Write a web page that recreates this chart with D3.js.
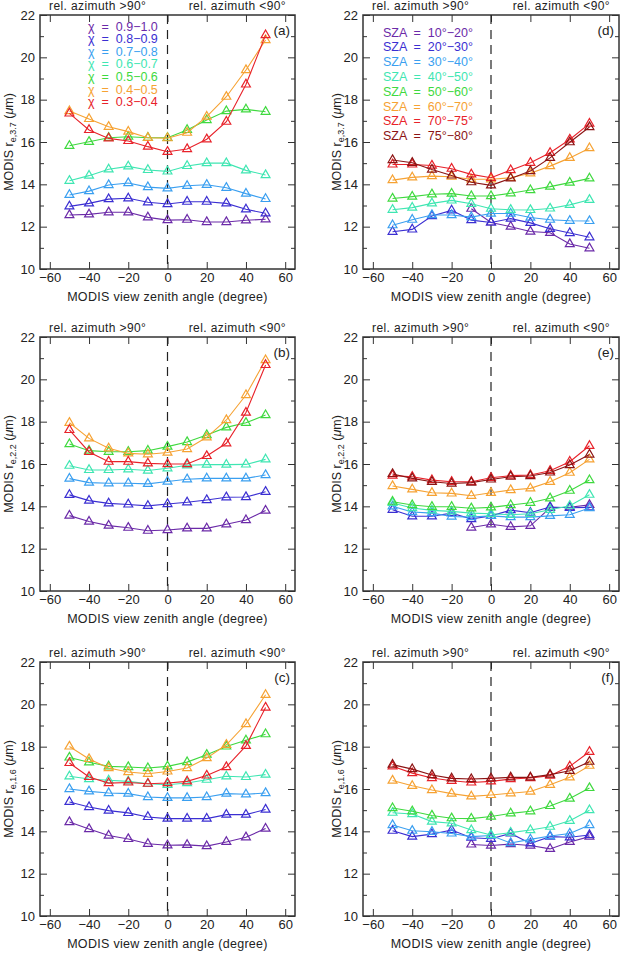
<!DOCTYPE html>
<html>
<head>
<meta charset="utf-8">
<script src="https://cdn.jsdelivr.net/npm/d3@7"></script>
<style>
  html, body { margin: 0; padding: 0; background: #fff; }
  svg { display: block; font-family: "Liberation Sans", Arial, Helvetica, sans-serif; }
</style>
</head>
<body>
<svg id="chart" width="620" height="953"></svg>
<script>
// ---------------- DATA ----------------
const vza = [-50, -40, -30, -20, -10, 0, 10, 20, 30, 40, 50];
const xTicks = [-60, -40, -20, 0, 20, 40, 60];
const yTicks = [10, 12, 14, 16, 18, 20, 22];
const yMinorTicks = [11, 13, 15, 17, 19, 21];

const chiLabels = ["0.9\u22121.0", "0.8\u22120.9", "0.7\u22120.8", "0.6\u22120.7", "0.5\u22120.6", "0.4\u22120.5", "0.3\u22120.4"];
const chiColors = ["#6b2aa8", "#3b2fd2", "#3a9ff0", "#3fe6b2", "#3fd93f", "#f6a233", "#e8222a"];

const szaLabels = ["10\u00b0\u221220\u00b0", "20\u00b0\u221230\u00b0", "30\u00b0\u221240\u00b0", "40\u00b0\u221250\u00b0",
                   "50\u00b0\u221260\u00b0", "60\u00b0\u221270\u00b0", "70\u00b0\u221275\u00b0", "75\u00b0\u221280\u00b0"];
const szaColors = ["#6b2aa8", "#3b2fd2", "#3a9ff0", "#3fe6b2", "#3fd93f", "#f6a233", "#e8222a", "#8c1414"];

// panel (a): r_e,3.7 by chi
const reA = [
  [12.55,12.58,12.68,12.68,12.44,12.31,12.33,12.22,12.22,12.30,12.35],
  [12.96,13.10,13.30,13.34,13.15,13.07,13.18,13.18,13.10,12.82,12.63],
  [13.50,13.68,13.97,14.06,13.87,13.81,13.93,13.98,13.84,13.56,13.31],
  [14.17,14.41,14.71,14.85,14.68,14.61,14.87,15.00,15.00,14.66,14.44],
  [15.82,16.01,16.20,16.25,16.20,16.20,16.57,17.04,17.46,17.54,17.43],
  [17.46,17.09,16.72,16.49,16.20,16.18,16.44,17.20,18.14,19.40,20.82],
  [17.35,16.57,16.17,16.05,15.78,15.54,15.67,16.13,16.96,18.72,21.05]
];
// panel (b): r_e,2.2 by chi
const reB = [
  [13.56,13.28,13.09,12.99,12.85,12.88,12.96,12.96,13.15,13.35,13.80],
  [14.54,14.27,14.14,14.09,14.02,14.11,14.19,14.30,14.43,14.44,14.69],
  [15.31,15.12,15.09,15.09,15.06,15.17,15.28,15.32,15.32,15.32,15.48],
  [15.92,15.72,15.72,15.75,15.69,15.80,15.94,15.97,15.97,15.98,16.22],
  [16.94,16.63,16.58,16.58,16.63,16.82,17.04,17.37,17.73,17.95,18.31],
  [17.95,17.21,16.74,16.50,16.46,16.54,16.71,17.26,18.08,19.26,20.91],
  [17.61,16.57,16.11,16.11,16.03,16.00,16.00,16.38,16.98,18.43,20.68]
];
// panel (c): r_e,1.6 by chi
const reC = [
  [14.44,14.11,13.80,13.64,13.41,13.34,13.36,13.30,13.50,13.72,14.13],
  [15.39,15.15,14.98,14.87,14.68,14.60,14.60,14.60,14.79,14.79,15.03],
  [16.00,15.89,15.81,15.78,15.62,15.58,15.58,15.62,15.78,15.75,15.81],
  [16.60,16.47,16.41,16.36,16.25,16.20,16.28,16.44,16.60,16.57,16.68],
  [17.49,17.26,17.07,17.04,16.99,17.07,17.27,17.62,18.01,18.30,18.59],
  [18.01,17.42,16.99,16.80,16.72,16.83,16.99,17.46,18.09,19.07,20.45],
  [17.23,16.57,16.28,16.31,16.25,16.28,16.36,16.64,17.04,18.04,19.85]
];
// panel (d): r_e,3.7 by SZA
const reD = [
  [null,null,null,null,12.85,12.20,12.00,11.77,11.71,11.18,10.98],
  [11.76,11.87,12.50,12.77,12.31,12.20,12.38,12.18,11.90,11.70,11.50],
  [12.07,12.33,12.55,12.55,12.45,12.62,12.62,12.43,12.33,12.28,12.27],
  [12.80,12.90,13.10,13.24,13.08,12.85,12.80,12.79,12.86,13.03,13.27],
  [13.33,13.42,13.53,13.56,13.45,13.45,13.58,13.73,13.89,14.08,14.28],
  [14.20,14.33,14.39,14.36,14.24,14.24,14.31,14.52,14.86,15.25,15.71],
  [14.94,14.94,14.89,14.74,14.47,14.31,14.67,15.02,15.49,16.12,16.87],
  [15.15,15.02,14.70,14.42,14.10,13.95,14.28,14.63,15.25,15.99,16.71]
];
// panel (e): r_e,2.2 by SZA
const reE = [
  [null,null,null,null,13.00,13.15,13.03,13.08,13.93,13.96,14.07],
  [13.84,13.53,13.53,13.68,13.40,13.55,13.82,13.70,13.97,13.93,13.95],
  [14.00,13.73,13.68,13.52,13.49,13.55,13.49,13.49,13.55,13.60,13.92],
  [14.16,13.92,13.81,13.76,13.68,13.65,13.60,13.65,13.84,14.03,14.55],
  [14.22,14.06,13.98,13.98,13.91,13.95,14.06,14.17,14.38,14.74,15.24],
  [14.96,14.80,14.64,14.61,14.50,14.64,14.77,14.85,15.16,15.59,16.22],
  [15.45,15.40,15.24,15.16,15.16,15.35,15.45,15.48,15.68,16.11,16.86],
  [15.53,15.32,15.16,15.08,15.12,15.27,15.40,15.43,15.60,15.95,16.45]
];
// panel (f): r_e,1.6 by SZA
const reF = [
  [null,null,null,null,13.38,13.33,13.40,13.33,13.17,13.50,13.75],
  [14.03,13.75,13.87,14.06,13.70,13.65,13.90,13.43,13.75,13.72,13.83],
  [14.30,14.03,13.98,13.90,13.75,13.80,13.45,13.62,13.78,13.90,14.30],
  [14.88,14.82,14.46,14.38,14.06,13.83,13.94,14.06,14.22,14.50,15.00],
  [15.10,14.95,14.75,14.62,14.60,14.70,14.85,14.95,15.20,15.55,16.05],
  [16.40,16.15,15.95,15.78,15.65,15.72,15.80,15.88,16.20,16.55,17.10],
  [17.07,16.75,16.52,16.39,16.31,16.36,16.47,16.52,16.63,17.07,17.76],
  [17.15,16.94,16.66,16.50,16.47,16.50,16.55,16.55,16.68,16.86,17.29]
];

// ---------------- DRAWING ----------------
const svg = d3.select("#chart");

const panels = [
  {id:"a", x0:40,  x1:295, y0:15,  y1:269, ytOff:27, sub:"e,3.7", data:reA, colors:chiColors, legend:chiLabels.map(l=>"\u03c7  =  " + l), legX:88,  legY:26, legDy:12.6},
  {id:"b", x0:40,  x1:295, y0:337, y1:591, ytOff:27, sub:"e,2.2", data:reB, colors:chiColors},
  {id:"c", x0:40,  x1:295, y0:662, y1:916, ytOff:27, sub:"e,1.6", data:reC, colors:chiColors},
  {id:"d", x0:363, x1:619, y0:15,  y1:269, ytOff:22, sub:"e,3.7", data:reD, colors:szaColors, legend:szaLabels.map(l=>"SZA  =  " + l), legX:383, legY:32, legDy:14.8},
  {id:"e", x0:363, x1:619, y0:337, y1:591, ytOff:22, sub:"e,2.2", data:reE, colors:szaColors},
  {id:"f", x0:363, x1:619, y0:662, y1:916, ytOff:22, sub:"e,1.6", data:reF, colors:szaColors}
];

const frameColor = "#333";

panels.forEach(p => {
  const x = d3.scaleLinear().domain([-65, 65]).range([p.x0, p.x1]);
  const y = d3.scaleLinear().domain([10, 22]).range([p.y1, p.y0]);
  const g = svg.append("g");

  // axes (ticks inward)
  const xMajor = d3.axisBottom(x).tickValues(xTicks).tickSize(-7).tickPadding(4)
    .tickFormat(d => d < 0 ? "\u2212" + Math.abs(d) : d);
  const yMajor = d3.axisLeft(y).tickValues(yTicks).tickSize(-7).tickPadding(5).tickFormat(d3.format("d"));

  g.append("g").attr("transform", `translate(0,${p.y1})`).call(xMajor);
  g.append("g").attr("transform", `translate(0,${p.y0})`)
    .call(d3.axisTop(x).tickValues(xTicks).tickSize(-7).tickFormat(""));
  g.append("g").attr("transform", `translate(${p.x0},0)`).call(yMajor);
  g.append("g").attr("transform", `translate(${p.x0},0)`)
    .call(d3.axisLeft(y).tickValues(yMinorTicks).tickSize(-4).tickFormat(""));
  g.append("g").attr("transform", `translate(${p.x1},0)`)
    .call(d3.axisRight(y).tickValues(yTicks).tickSize(-7).tickFormat(""));
  g.append("g").attr("transform", `translate(${p.x1},0)`)
    .call(d3.axisRight(y).tickValues(yMinorTicks).tickSize(-4).tickFormat(""));

  g.selectAll(".domain").remove();
  g.selectAll(".tick line").attr("stroke", frameColor).attr("stroke-width", 1);
  g.selectAll(".tick text").attr("fill", "#222").attr("font-size", 13)
    .attr("font-family", "'Liberation Sans', Arial, sans-serif");

  // frame
  g.append("rect").attr("x", p.x0).attr("y", p.y0)
    .attr("width", p.x1 - p.x0).attr("height", p.y1 - p.y0)
    .attr("fill", "none").attr("stroke", frameColor).attr("stroke-width", 1.5);

  // dashed zero line
  g.append("line").attr("x1", x(0)).attr("x2", x(0)).attr("y1", p.y0).attr("y2", p.y1)
    .attr("stroke", "#222").attr("stroke-width", 1.2).attr("stroke-dasharray", "9,6");

  // series
  const line = d3.line().defined(d => d[1] !== null).x(d => x(d[0])).y(d => y(d[1]));
  const tri = d3.symbol().type(d3.symbolTriangle).size(34);
  p.data.forEach((vals, i) => {
    const pts = vza.map((v, k) => [v, vals[k]]);
    g.append("path").datum(pts).attr("d", line)
      .attr("fill", "none").attr("stroke", p.colors[i]).attr("stroke-width", 1.1);
    g.append("g").selectAll("path").data(pts.filter(d => d[1] !== null)).join("path")
      .attr("d", tri)
      .attr("transform", d => `translate(${x(d[0])},${y(d[1])})`)
      .attr("fill", "none").attr("stroke", p.colors[i]).attr("stroke-width", 1.2);
  });

  // top labels
  g.append("text").attr("x", p.x0 + 9).attr("y", p.y0 - 5)
    .attr("font-size", 12).attr("fill", "#222").attr("letter-spacing", 0.4)
    .text("rel. azimuth >90\u00b0");
  g.append("text").attr("x", p.x1 - 9).attr("y", p.y0 - 5).attr("text-anchor", "end")
    .attr("font-size", 12).attr("fill", "#222").attr("letter-spacing", 0.4)
    .text("rel. azimuth <90\u00b0");

  // x title
  g.append("text").attr("x", (p.x0 + p.x1) / 2).attr("y", p.y1 + 32).attr("text-anchor", "middle")
    .attr("font-size", 12.5).attr("fill", "#222").attr("letter-spacing", 0.3)
    .text("MODIS view zenith angle (degree)");

  // y title
  const yt = g.append("text")
    .attr("transform", `translate(${p.x0 - p.ytOff},${(p.y0 + p.y1) / 2}) rotate(-90)`)
    .attr("text-anchor", "middle").attr("font-size", 12.5).attr("fill", "#222");
  yt.append("tspan").text("MODIS r");
  yt.append("tspan").attr("font-size", 9).attr("dy", 3).text(p.sub);
  yt.append("tspan").attr("dy", -3).text(" (");
  yt.append("tspan").attr("font-style", "italic").text("\u03bc");
  yt.append("tspan").text("m)");

  // panel letter
  g.append("text").attr("x", p.x1 - 5).attr("y", p.y0 + 20).attr("text-anchor", "end")
    .attr("font-size", 13.5).attr("fill", "#222").text(`(${p.id})`);

  // legend
  if (p.legend) {
    g.append("g").selectAll("text").data(p.legend).join("text")
      .attr("x", p.legX).attr("y", (d, i) => p.legY + i * p.legDy + 4.5)
      .attr("font-size", 12.5).attr("fill", (d, i) => p.colors[i])
      .style("white-space", "pre")
      .text(d => d);
  }
});
</script>
</body>
</html>
